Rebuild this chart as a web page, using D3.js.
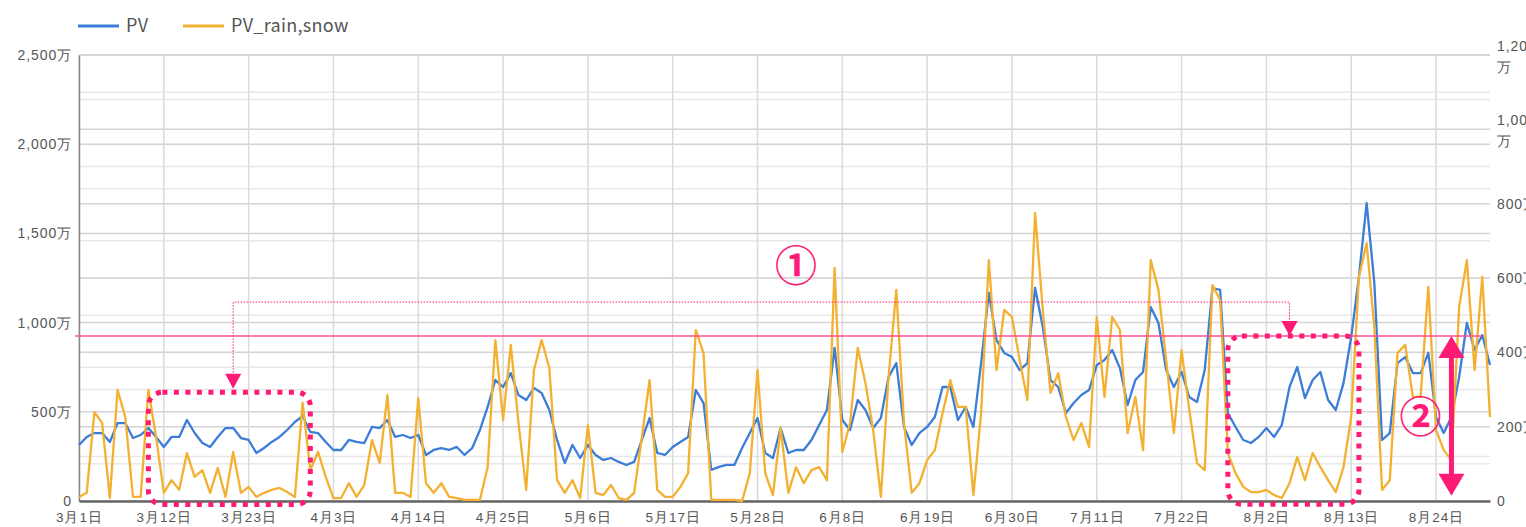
<!DOCTYPE html>
<html>
<head>
<meta charset="utf-8">
<script src="https://cdn.jsdelivr.net/npm/d3@7"></script>
<style>
  body { margin: 0; background: #fff; }
  svg { display: block; font-family: "Noto Sans CJK JP", "Liberation Sans", Arial, sans-serif; }
</style>
</head>
<body>
<svg id="chart" width="1526" height="527"></svg>
<script>
// daily values from 3/1 to 8/31, unit: 万
var pv = [314,359,381,381,331,437,437,353,370,409,359,303,359,359,454,381,325,303,359,409,
  409,353,342,269,297,331,359,398,443,476,387,381,331,286,286,342,331,325,415,409,
  454,359,370,353,370,258,286,297,286,303,258,297,398,527,678,639,717,594,566,633,
  605,510,342,213,314,241,314,258,230,241,219,202,219,342,465,269,258,303,331,359,
  622,549,174,191,202,202,297,381,465,269,241,409,269,286,286,342,426,510,858,454,
  398,566,510,409,465,695,773,415,314,381,415,471,639,639,454,527,415,773,1166,902,
  830,807,734,773,1194,975,678,639,493,549,594,622,762,790,846,745,538,678,723,1087,
  998,734,639,723,583,555,734,1194,1183,493,415,342,325,359,409,359,426,639,751,577,
  678,723,566,510,661,919,1256,1670,1222,342,381,773,807,717,717,830,471,381,471,695,
  998,846,930,762];
var pvRainSnow = [11,22,239,210,8,299,226,11,11,299,172,22,56,30,129,65,83,22,89,11,
  132,22,38,11,22,30,35,24,11,264,83,132,65,8,8,48,11,43,164,102,
  285,22,22,11,277,48,22,48,11,8,3,3,3,91,433,218,420,210,30,352,
  433,358,56,22,56,8,204,22,16,43,8,3,22,172,325,30,11,11,38,75,
  460,398,3,3,3,3,0,75,352,75,16,196,22,91,48,83,91,56,627,132,
  210,412,317,191,11,334,568,210,22,48,110,137,237,325,253,253,16,237,648,352,
  514,495,379,272,775,514,291,344,226,164,210,145,495,280,495,460,183,280,137,648,
  568,379,183,406,245,102,83,581,541,129,75,38,24,24,30,16,8,48,118,56,
  129,91,56,24,91,226,603,694,468,30,56,398,420,280,280,576,191,137,110,522,
  648,352,603,226];
var seriesNames = ["PV", "PV_rain,snow"];
var leftTicks = [0, 500, 1000, 1500, 2000, 2500];
var rightTicks = [0, 200, 400, 600, 800, 1000, 1200];
var xTickEvery = 11;

var mLeft = 79, mRight = 1490, mTop = 55, mBottom = 501;
var blue = "#3b7dd8", orange = "#f3b031", pink = "#ff1a75";

var svg = d3.select("#chart");
var start = new Date(Date.UTC(2019, 2, 1));
var dates = pv.map(function(d, i) { return d3.utcDay.offset(start, i); });

var x = d3.scaleUtc().domain([dates[0], dates[dates.length - 1]]).range([mLeft, mRight]);
var yL = d3.scaleLinear().domain([0, 2500]).range([mBottom, mTop]);
var yR = d3.scaleLinear().domain([0, 1200]).range([mBottom, mTop]);

// gridlines
var grid = svg.append("g");
d3.range(0, 2501, 250).forEach(function(v) {
  grid.append("line").attr("x1", mLeft).attr("x2", mRight).attr("y1", yL(v)).attr("y2", yL(v))
    .attr("stroke", v % 500 == 0 ? "#d4d4d4" : "#e8e8e8").attr("stroke-width", 1.5);
});
d3.range(0, 1201, 100).forEach(function(v) {
  grid.append("line").attr("x1", mLeft).attr("x2", mRight).attr("y1", yR(v)).attr("y2", yR(v))
    .attr("stroke", v % 200 == 0 ? "#d4d4d4" : "#e8e8e8").attr("stroke-width", 1.5);
});
var xTicks = dates.filter(function(d, i) { return i % xTickEvery == 0; });
xTicks.forEach(function(d) {
  grid.append("line").attr("x1", x(d)).attr("x2", x(d)).attr("y1", mTop).attr("y2", mBottom)
    .attr("stroke", "#dadada").attr("stroke-width", 1.5);
});

// axes
var fmt = d3.format(",");
var axL = svg.append("g").attr("transform", "translate(" + mLeft + ",0)")
  .call(d3.axisLeft(yL).tickValues(leftTicks).tickSize(0).tickPadding(7)
    .tickFormat(function(v) { return v == 0 ? "0" : fmt(v) + "万"; }));
axL.select(".domain").attr("stroke", "#888").attr("stroke-width", 1.5);
axL.selectAll("text").attr("font-size", 14).attr("letter-spacing", 0.9)
  .attr("fill", "#555").attr("font-family", null);

var axR = svg.append("g").attr("transform", "translate(" + mRight + ",0)")
  .call(d3.axisRight(yR).tickValues(rightTicks).tickSize(0).tickPadding(7).tickFormat(""));
axR.select(".domain").remove();
axR.selectAll(".tick").each(function(v) {
  var t = d3.select(this).select("text").attr("font-size", 14).attr("letter-spacing", 0.9)
    .attr("fill", "#555").attr("font-family", null).attr("x", 7);
  if (v == 0) { t.text("0"); }
  else if (v >= 1000) {
    t.attr("dy", "-0.35em");
    t.append("tspan").attr("x", 7).text(fmt(v));
    t.append("tspan").attr("x", 7).attr("dy", "1.5em").text("万");
  } else { t.text(v + "万"); }
});

var axB = svg.append("g").attr("transform", "translate(0," + mBottom + ")")
  .call(d3.axisBottom(x).tickValues(xTicks).tickSize(0).tickPadding(11)
    .tickFormat(function(d) { return (d.getUTCMonth() + 1) + "月" + d.getUTCDate() + "日"; }));
axB.select(".domain").attr("stroke", "#666").attr("stroke-width", 2.5);
axB.selectAll("text").attr("font-size", 13.5).attr("letter-spacing", 1)
  .attr("fill", "#555").attr("font-family", null);

// series
var lineL = d3.line().x(function(d, i) { return x(dates[i]); }).y(function(d) { return yL(d); });
var lineR = d3.line().x(function(d, i) { return x(dates[i]); }).y(function(d) { return yR(d); });
svg.append("path").datum(pv).attr("d", lineL).attr("fill", "none")
  .attr("stroke", blue).attr("stroke-width", 2.3).attr("stroke-linejoin", "round");
svg.append("path").datum(pvRainSnow).attr("d", lineR).attr("fill", "none")
  .attr("stroke", orange).attr("stroke-width", 2.3).attr("stroke-linejoin", "round");

// legend
var lg = svg.append("g");
[[78, blue], [183, orange]].forEach(function(p, i) {
  lg.append("line").attr("x1", p[0]).attr("x2", p[0] + 41).attr("y1", 26).attr("y2", 26)
    .attr("stroke", p[1]).attr("stroke-width", 3);
  lg.append("text").attr("x", p[0] + 48).attr("y", 32).attr("font-size", 18)
    .attr("letter-spacing", 0.3).attr("fill", "#555").text(seriesNames[i]);
});

// annotations
var day = function(n) { return x(d3.utcDay.offset(start, n)); };
var ann = svg.append("g");
ann.append("line").attr("x1", mLeft - 4).attr("x2", day(182.2)).attr("y1", yL(925)).attr("y2", yL(925))
  .attr("stroke", "#ff4f93").attr("stroke-width", 1.5);

var boxes = [[9.3, 30.7, 610, -20], [149, 166.2, 925, -18]];
boxes.forEach(function(b) {
  ann.append("rect").attr("x", day(b[0])).attr("y", yL(b[2]))
    .attr("width", day(b[1]) - day(b[0])).attr("height", yL(b[3]) - yL(b[2]))
    .attr("rx", 14).attr("fill", "none").attr("stroke", pink)
    .attr("stroke-width", 5).attr("stroke-dasharray", "5,6.5");
});

var yTop = yL(1115);
ann.append("path")
  .attr("d", "M" + day(20) + "," + (yL(635) - 12) + "V" + yTop + "H" + day(157.6) + "V" + (yL(930) - 14))
  .attr("fill", "none").attr("stroke", pink).attr("stroke-width", 1).attr("stroke-dasharray", "1.5,1.5");
[[20, 635], [157.6, 930]].forEach(function(a) {
  var ax = day(a[0]), ay = yL(a[1]) + 1;
  ann.append("path").attr("d", "M" + (ax - 8) + "," + (ay - 15) + "L" + (ax + 8) + "," + (ay - 15) + "L" + ax + "," + ay + "Z")
    .attr("fill", pink);
});

// double arrow
var dx = day(178.7), dTop = yL(925), dBot = yL(30);
ann.append("line").attr("x1", dx).attr("x2", dx).attr("y1", dTop + 18).attr("y2", dBot - 18)
  .attr("stroke", pink).attr("stroke-width", 5);
ann.append("path").attr("d", "M" + dx + "," + dTop + "L" + (dx + 13) + "," + (dTop + 22) + "L" + (dx - 13) + "," + (dTop + 22) + "Z").attr("fill", pink);
ann.append("path").attr("d", "M" + dx + "," + dBot + "L" + (dx + 13) + "," + (dBot - 22) + "L" + (dx - 13) + "," + (dBot - 22) + "Z").attr("fill", pink);

[["①", 93.6, 1317], ["②", 174.3, 471]].forEach(function(c) {
  ann.append("text").attr("x", day(c[1])).attr("y", yL(c[2])).attr("dy", "0.36em")
    .attr("text-anchor", "middle").attr("font-size", 42).attr("font-weight", "bold")
    .attr("fill", pink).text(c[0]);
});
</script>
</body>
</html>
